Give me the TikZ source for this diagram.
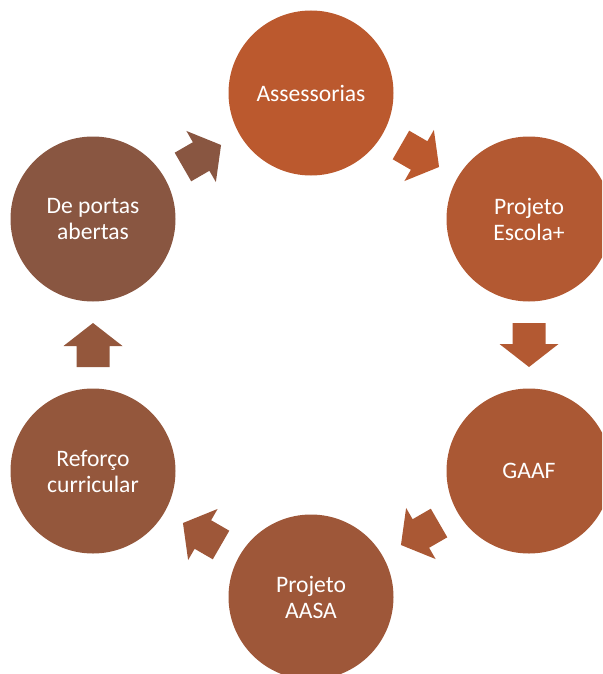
\documentclass[tikz,border=0pt]{standalone}
\usepackage{fontspec}
\setmainfont{Carlito}
\usetikzlibrary{calc}
\definecolor{c1}{HTML}{BB592E}
\definecolor{c2}{HTML}{B35932}
\definecolor{c3}{HTML}{AA5834}
\definecolor{c4}{HTML}{9E5739}
\definecolor{c5}{HTML}{94573C}
\definecolor{c6}{HTML}{895641}
\begin{document}
\begin{tikzpicture}[x=1pt,y=-1pt,
  circ/.style={circle, minimum size=165pt, inner sep=0pt, text=white,
    font=\fontsize{23.6}{26}\selectfont, align=center, fill=#1},
  blockarrow/.pic={\fill[pic actions] (-22,-16.5) -- (-1,-16.5) -- (-1,-29.5) -- (22,0) -- (-1,29.5) -- (-1,16.5) -- (-22,16.5) -- cycle;}]
\useasboundingbox (0,0) rectangle (602,674);
\clip (0,0) rectangle (602,674);
\node[circ=c1] (a) at (311,93) {Assessorias};
\node[circ=c2] (b) at (529,219) {Projeto\\Escola+};
\node[circ=c3] (c) at (529,471) {GAAF};
\node[circ=c4] (d) at (311,597) {Projeto\\AASA};
\node[circ=c5] (e) at (93,471) {Reforço\\curricular};
\node[circ=c6] (f) at (93,219) {De portas\\abertas};
\pic[rotate=-30, fill=c1] at ($(a)!0.5!(b)$) {blockarrow};
\pic[rotate=-90, fill=c2] at ($(b)!0.5!(c)$) {blockarrow};
\pic[rotate=210, fill=c3] at ($(c)!0.5!(d)$) {blockarrow};
\pic[rotate=150, fill=c4] at ($(d)!0.5!(e)$) {blockarrow};
\pic[rotate=90, fill=c5] at ($(e)!0.5!(f)$) {blockarrow};
\pic[rotate=30, fill=c6] at ($(f)!0.5!(a)$) {blockarrow};
\end{tikzpicture}
\end{document}
